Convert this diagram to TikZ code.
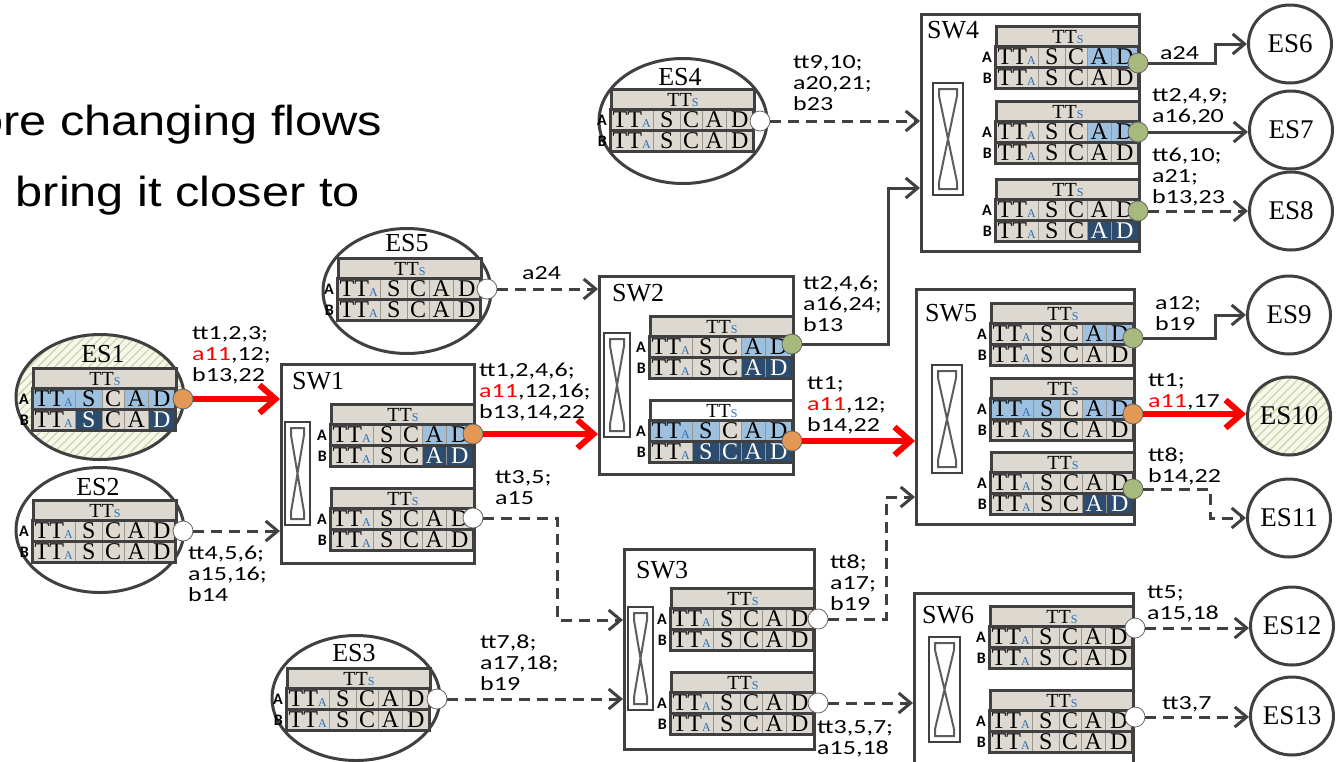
\documentclass[tikz,border=0pt]{standalone}
\usepackage{fontspec}
\setmainfont{Liberation Serif}
\newfontfamily\cellf{Liberation Serif}
\newfontfamily\labf[FakeStretch=1.3]{Carlito}
\newfontfamily\abf{Carlito}
\newfontfamily\bigf[FakeStretch=1.16]{Liberation Sans}
\usetikzlibrary{arrows.meta,shapes.geometric,patterns.meta}

\definecolor{dg}{HTML}{404040}
\definecolor{beige}{HTML}{DDD9D0}
\definecolor{lb}{HTML}{9DC0DF}
\definecolor{db}{HTML}{2B4C6F}
\definecolor{subb}{HTML}{2E6FB5}
\definecolor{orn}{HTML}{E39955}
\definecolor{grn}{HTML}{A8B97D}
\definecolor{hatchbg}{HTML}{F7F8EC}
\definecolor{hatchln}{HTML}{CDD5AA}
\definecolor{sepc}{HTML}{9A968E}

\newcommand\subA{{\fontsize{12}{12}\selectfont\color{subb}A}}
\newcommand\subS{{\fontsize{12}{12}\selectfont\color{subb}S}}

\tikzset{
 cell/.style={anchor=north west, minimum height=21pt, inner sep=0pt, text height=16.5pt, text depth=0pt, font=\cellf\fontsize{24}{24}\selectfont},
 cn/.style={fill=beige},
 cl/.style={fill=lb},
 cd/.style={fill=db,text=white},
 cw/.style={fill=white},
 hdr/.style={cell, minimum width=143pt, text height=13.5pt, draw=dg, line width=3pt, font=\cellf\fontsize{20}{20}\selectfont},
 rowbox/.style={draw=dg, line width=3pt},
 sepl/.style={draw=sepc, line width=1pt},
 ablab/.style={anchor=east, inner sep=0pt, font=\abf\bfseries\fontsize{16}{16}\selectfont},
 mk/.style={circle, minimum size=20pt, inner sep=0pt, draw=dg!80, line width=0.8pt},
 lab/.style={anchor=north west, align=left, inner sep=0pt, font=\labf\fontsize{20}{21}\selectfont},
 swbox/.style={anchor=north west, draw=dg, line width=3pt, fill=white, inner sep=0pt},
 swl/.style={anchor=west, inner sep=0pt, font=\fontsize{26}{26}\selectfont},
 esell/.style={ellipse, minimum width=168pt, minimum height=125pt, draw=dg, line width=3pt, inner sep=0pt, fill=white},
 esl/.style={inner sep=0pt, font=\fontsize{26}{26}\selectfont},
 escirc/.style={ellipse, minimum width=83pt, minimum height=78pt, draw=dg, line width=3pt, inner sep=0pt, fill=white, font=\fontsize{27}{27}\selectfont},
 hatched/.style={preaction={fill=hatchbg}, pattern={Lines[angle=45,distance=6pt,line width=1.3pt]}, pattern color=hatchln},
 sflow/.style={draw=dg, line width=3pt, -{Straight Barb[length=12pt,width=20pt]}},
 dflow/.style={sflow, dash pattern=on 11pt off 7pt},
 rflow/.style={draw=red, line width=6pt, -{Straight Barb[length=16pt,width=28pt]}},
 icon/.style={draw=dg, line width=2.5pt, fill=white},
 iconx/.style={draw=dg!85, line width=2pt},
 big/.style={anchor=base west, inner sep=0pt, font=\bigf\fontsize{42}{42}\selectfont},
}

% header row: name, x, y, style
\newcommand\thdr[4]{\node[hdr,#4] (#1) at (#2,#3) {TT\subS};}
% data row: name, x, y, label, five cell styles
\newcommand\trow[9]{%
  \node[cell,#5,minimum width=43pt] (#1-1) at (#2,#3) {TT\subA};
  \node[cell,#6,minimum width=27pt] (#1-2) at (#2+43,#3) {S};
  \node[cell,#7,minimum width=22pt] (#1-3) at (#2+70,#3) {C};
  \node[cell,#8,minimum width=24pt] (#1-4) at (#2+92,#3) {A};
  \node[cell,#9,minimum width=27pt] (#1-5) at (#2+116,#3) {D};
  \foreach \k in {2,3,4,5} \draw[sepl] (#1-\k.north west) -- (#1-\k.south west);
  \draw[rowbox] (#1-1.north west) rectangle (#1-5.south east);
  \node[ablab] (#1-l) at (#2-3,#3+11) {#4};
}
% plain table (all beige): name, x, y
\newcommand\ptbl[3]{%
  \thdr{#1h}{#2}{#3}{cn}
  \trow{#1a}{#2}{#3+21}{A}{cn}{cn}{cn}{cn}{cn}
  \trow{#1b}{#2}{#3+42}{B}{cn}{cn}{cn}{cn}{cn}
}
% switch icon: x0,y0,x1,y1
\newcommand\swicon[4]{%
  \draw[icon] (#1,#2) rectangle (#3,#4);
  \draw[iconx] (#1+6,#2+6) -- (#3-6,#2+6) -- (#3-6,#2+13) -- (#1+6,#4-13) -- (#1+6,#4-6)
     -- (#3-6,#4-6) -- (#3-6,#4-13) -- (#1+6,#2+13) -- cycle;
}

\begin{document}
\begin{tikzpicture}[x=1pt,y=-1pt]
\useasboundingbox (0,0) rectangle (1337,761);

% title fragments
\node[big] (t1) at (-24,135) {ore changing flows};
\node[big] (t2) at (-25,206) {e bring it closer to};

% ---------- end stations (ellipses) ----------
\node[esell,hatched] (es1) at (100,397) {};
\node[esl] (es1l) at (103,354) {ES1};
\thdr{es1h}{32}{367}{cn}
\trow{es1a}{32}{388}{A}{cl}{cl}{cn}{cl}{cl}
\trow{es1b}{32}{409}{B}{cn}{cd}{cn}{cn}{cd}

\node[esell] (es2) at (100,530) {};
\node[esl] (es2l) at (98,487) {ES2};
\ptbl{es2}{32}{499}

\node[esell] (es3) at (356,698) {};
\node[esl] (es3l) at (354,653) {ES3};
\ptbl{es3}{286}{667}

\node[esell] (es4) at (683,121) {};
\node[esl] (es4l) at (680,77) {ES4};
\ptbl{es4}{610}{88}

\node[esell] (es5) at (407,291) {};
\node[esl] (es5l) at (407,243) {ES5};
\ptbl{es5}{337}{257}

% ---------- switches ----------
% SW1
\node[swbox,minimum width=193pt,minimum height=199pt] (sw1) at (280,363) {};
\node[swl] (sw1l) at (292,381) {SW1};
\swicon{285}{422}{310}{525}
\thdr{sw1th}{330}{403}{cn}
\trow{sw1ta}{330}{424}{A}{cn}{cn}{cn}{cl}{cl}
\trow{sw1tb}{330}{445}{B}{cn}{cn}{cn}{cd}{cd}
\ptbl{sw1u}{330}{487}

% SW2
\node[swbox,minimum width=194pt,minimum height=198pt] (sw2) at (598,275) {};
\node[swl] (sw2l) at (612,293) {SW2};
\swicon{604}{333}{630}{437}
\thdr{sw2th}{649}{315}{cn}
\trow{sw2ta}{649}{336}{A}{cn}{cn}{cn}{cl}{cl}
\trow{sw2tb}{649}{357}{B}{cn}{cn}{cn}{cd}{cd}
\thdr{sw2uh}{649}{399}{cw}
\trow{sw2ua}{649}{420}{A}{cl}{cl}{cn}{cl}{cl}
\trow{sw2ub}{649}{441}{B}{cn}{cd}{cd}{cd}{cd}

% SW3
\node[swbox,minimum width=190pt,minimum height=200pt] (sw3) at (623,548) {};
\node[swl] (sw3l) at (636,570) {SW3};
\swicon{628}{607}{653}{710}
\ptbl{sw3t}{670}{587}
\ptbl{sw3u}{670}{671}

% SW4
\node[swbox,minimum width=218pt,minimum height=237pt] (sw4) at (920,13) {};
\node[swl] (sw4l) at (927,30) {SW4};
\swicon{933}{83}{963}{195}
\thdr{sw4th}{995}{25}{cn}
\trow{sw4ta}{995}{46}{A}{cn}{cn}{cn}{cl}{cl}
\trow{sw4tb}{995}{67}{B}{cn}{cn}{cn}{cn}{cn}
\thdr{sw4uh}{995}{100}{cn}
\trow{sw4ua}{995}{121}{A}{cn}{cn}{cn}{cl}{cl}
\trow{sw4ub}{995}{142}{B}{cn}{cn}{cn}{cn}{cn}
\thdr{sw4vh}{995}{178}{cn}
\trow{sw4va}{995}{199}{A}{cn}{cn}{cn}{cn}{cn}
\trow{sw4vb}{995}{220}{B}{cn}{cn}{cn}{cd}{cd}

% SW5
\node[swbox,minimum width=218pt,minimum height=235pt] (sw5) at (915,288) {};
\node[swl] (sw5l) at (925,313) {SW5};
\swicon{932}{365}{962}{473}
\thdr{sw5th}{990}{302}{cn}
\trow{sw5ta}{990}{323}{A}{cn}{cn}{cn}{cl}{cl}
\trow{sw5tb}{990}{344}{B}{cn}{cn}{cn}{cn}{cn}
\thdr{sw5uh}{990}{377}{cn}
\trow{sw5ua}{990}{398}{A}{cl}{cl}{cn}{cl}{cl}
\trow{sw5ub}{990}{419}{B}{cn}{cn}{cn}{cn}{cn}
\thdr{sw5vh}{990}{451}{cn}
\trow{sw5va}{990}{472}{A}{cn}{cn}{cn}{cn}{cn}
\trow{sw5vb}{990}{493}{B}{cn}{cn}{cn}{cd}{cd}

% SW6
\node[swbox,minimum width=219pt,minimum height=190pt] (sw6) at (913,592) {};
\node[swl] (sw6l) at (922,615) {SW6};
\swicon{929}{637}{960}{742}
\ptbl{sw6t}{989}{605}
\ptbl{sw6u}{989}{689}

% ---------- destination stations ----------
\node[escirc] (es6) at (1290,44) {ES6};
\node[escirc] (es7) at (1291,130) {ES7};
\node[escirc] (es8) at (1291,211) {ES8};
\node[escirc] (es9) at (1289,315) {ES9};
\node[escirc,hatched] (es10) at (1289,416) {ES10};
\node[escirc] (es11) at (1289,518) {ES11};
\node[escirc] (es12) at (1292,626) {ES12};
\node[escirc] (es13) at (1292,716) {ES13};

% ---------- port markers ----------
\node[mk,fill=orn] (es1m) at (183,399) {};
\node[mk,fill=white] (es2m) at (183,531) {};
\node[mk,fill=white] (es3m) at (437,699) {};
\node[mk,fill=white] (es4m) at (760,121) {};
\node[mk,fill=white] (es5m) at (487,289) {};
\node[mk,fill=orn] (sw1am) at (473,434) {};
\node[mk,fill=white] (sw1bm) at (473,518) {};
\node[mk,fill=grn] (sw2am) at (792,344) {};
\node[mk,fill=orn] (sw2bm) at (792,441) {};
\node[mk,fill=white] (sw3am) at (818,619) {};
\node[mk,fill=white] (sw3bm) at (818,703) {};
\node[mk,fill=grn] (sw4am) at (1138,63) {};
\node[mk,fill=grn] (sw4bm) at (1138,132) {};
\node[mk,fill=grn] (sw4cm) at (1138,211) {};
\node[mk,fill=grn] (sw5am) at (1133,338) {};
\node[mk,fill=orn] (sw5bm) at (1133,414) {};
\node[mk,fill=grn] (sw5cm) at (1133,489) {};
\node[mk,fill=white] (sw6am) at (1135,628) {};
\node[mk,fill=white] (sw6bm) at (1135,717) {};

% ---------- connectors ----------
\coordinate (sw3in1) at (623,620);
\coordinate (sw4in2) at (920,188);
\coordinate (sw5in3) at (915,497);
\draw[rflow] (es1m.east) -- (es1m -| sw1.west);
\draw[dflow] (es2m.east) -- (es2m -| sw1.west);
\draw[rflow] (sw1am.east) -- (sw1am -| sw2.west);
\draw[dflow] (sw1bm.east) -- ++(74,0) |- (sw3in1);
\draw[dflow] (es3m.east) -- (es3m -| sw3.west);
\draw[dflow] (es5m.east) -- (es5m -| sw2.west);
\draw[sflow] (sw2am.east) -- ++(86,0) |- (sw4in2);
\draw[rflow] (sw2bm.east) -- (sw2bm -| sw5.west);
\draw[dflow] (es4m.east) -- (es4m -| sw4.west);
\draw[dflow] (sw3am.east) -- ++(58,0) |- (sw5in3);
\draw[dflow] (sw3bm.east) -- (sw3bm -| sw6.west);
\draw[sflow] (sw4am.east) -- ++(67,0) |- (es6.west);
\draw[sflow] (sw4bm.east) -- (sw4bm -| es7.west);
\draw[dflow] (sw4cm.east) -- (sw4cm -| es8.west);
\draw[sflow] (sw5am.east) -- ++(72,0) |- (es9.west);
\draw[rflow] (sw5bm.east) -- (sw5bm -| es10.west);
\draw[dflow] (sw5cm.east) -- ++(67,0) |- (es11.west);
\draw[dflow] (sw6am.east) -- (sw6am -| es12.west);
\draw[dflow] (sw6bm.east) -- (sw6bm -| es13.west);

% ---------- flow labels ----------
\node[lab] (l1) at (192,326) {tt1,2,3;\\\textcolor{red}{a11},12;\\b13,22};
\node[lab] (l2) at (188,546) {tt4,5,6;\\a15,16;\\b14};
\node[lab] (l3) at (479,363) {tt1,2,4,6;\\\textcolor{red}{a11},12,16;\\b13,14,22};
\node[lab] (l4) at (495,470) {tt3,5;\\a15};
\node[lab] (l5) at (522,266) {a24};
\node[lab] (l6) at (480,635) {tt7,8;\\a17,18;\\b19};
\node[lab] (l7) at (793,55) {tt9,10;\\a20,21;\\b23};
\node[lab] (l8) at (803,276) {tt2,4,6;\\a16,24;\\b13};
\node[lab] (l9) at (807,376) {tt1;\\\textcolor{red}{a11},12;\\b14,22};
\node[lab] (l10) at (830,555) {tt8;\\a17;\\b19};
\node[lab] (l11) at (817,720) {tt3,5,7;\\a15,18};
\node[lab] (l12) at (1160,46) {a24};
\node[lab] (l13) at (1152,88) {tt2,4,9;\\a16,20};
\node[lab] (l14) at (1152,148) {tt6,10;\\a21;\\b13,23};
\node[lab] (l15) at (1155,296) {a12;\\b19};
\node[lab] (l16) at (1148,373) {tt1;\\\textcolor{red}{a11},17};
\node[lab] (l17) at (1148,448) {tt8;\\b14,22};
\node[lab] (l18) at (1147,585) {tt5;\\a15,18};
\node[lab] (l19) at (1162,696) {tt3,7};
\end{tikzpicture}
\end{document}
